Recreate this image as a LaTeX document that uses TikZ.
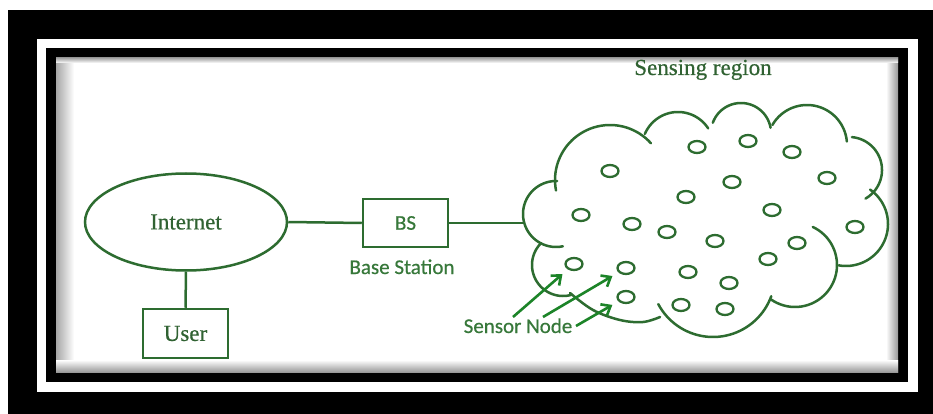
\documentclass[tikz,border=0pt]{standalone}
\usepackage{fontspec}
\setmainfont[FakeBold=0.5]{Liberation Serif}
\newfontfamily\sansf[FakeBold=0.5]{Carlito}
\usetikzlibrary{shapes.geometric,arrows.meta,calc}
\definecolor{lineg}{RGB}{45,108,48}
\definecolor{textg}{RGB}{48,98,50}
\definecolor{sansg}{RGB}{55,120,58}
\definecolor{arrowg}{RGB}{28,132,40}
\newcommand{\cloudbump}[5]{\draw[cloudarc] plot[domain=#4:#5, samples=40, variable=\t] ({#1+#3*cos(\t)}, {#2+#3*sin(\t)});}
\begin{document}
\begin{tikzpicture}[x=1pt,y=-1pt,
  line/.style={draw=lineg, line width=2.5pt},
  box/.style={draw=lineg, line width=2.5pt, minimum width=85pt, minimum height=48pt, inner sep=0pt},
  serif/.style={text=textg, font=\fontsize{23}{27}\selectfont},
  sanslabel/.style={text=sansg, font=\sansf\fontsize{21}{25}\selectfont},
  sensor/.style={ellipse, draw=lineg, line width=2.3pt, minimum width=17pt, minimum height=12pt, inner sep=0pt},
  cloudarc/.style={draw=lineg, line width=2.5pt, line cap=round},
  pointer/.style={draw=arrowg, line width=2.6pt, shorten >=7pt, -{Straight Barb[length=8pt,width=13pt]}}]
\useasboundingbox (0,0) rectangle (933,414);
% frame
\fill[white] (0,0) rectangle (933,414);
\fill[black] (8,10) rectangle (933,414);
\fill[white] (37,39) rectangle (918,392);
\fill[black] (46,48) rectangle (908,382);
\fill[white] (56,58) rectangle (898,372);
\shade[left color=black!35, right color=white] (56,58) rectangle (74,372);
\shade[left color=white, right color=black!40] (886,58) rectangle (898,372);
\shade[top color=black!35, bottom color=white] (56,58) rectangle (898,63);
\shade[top color=white, bottom color=black!40] (56,360) rectangle (898,372);
% left part
\node[ellipse, draw=lineg, line width=2.5pt, minimum width=202pt, minimum height=97pt, inner sep=0pt, serif] (inet) at (186,222) {\raisebox{-2pt}{Internet}};
\node[box, sanslabel] (bs) at (405.5,223) {\raisebox{-2pt}{BS}};
\node[sanslabel, anchor=base] (bslabel) at (402,274) {Base Station};
\node[box, serif, minimum height=49pt] (user) at (185.5,333.5) {\raisebox{-4pt}{User}};
\coordinate (cloudL) at (524,223);
\draw[line] (inet.east) -- (bs.west);
\draw[line] (bs.east) -- (cloudL);
\draw[line] (inet.south) -- (user.north);
% sensing region
\node[serif, anchor=base] (sensing) at (703,75) {Sensing region};
% cloud bumps (centre x, centre y, radius, start angle, end angle; y downwards)
\cloudbump{556}{214}{33}{78}{272}
\cloudbump{610}{180}{55}{169}{318}
\cloudbump{678}{148}{36}{203}{327}
\cloudbump{741}{133}{30}{200}{350}
\cloudbump{807}{145}{40}{210}{355}
\cloudbump{849}{170}{33}{-85}{60}
\cloudbump{846}{224}{42}{-55}{100}
\cloudbump{795}{265}{42}{-65}{125}
\cloudbump{713}{275}{62}{20}{152}
\draw[cloudarc] plot[smooth, tension=0.6] coordinates {(660,317) (643,322) (620,320) (593,310) (570,293)};
\cloudbump{563}{265}{31}{75}{225}
% sensors
\node[sensor] (s1) at (610,171) {};
\node[sensor] (s2) at (697,147) {};
\node[sensor] (s3) at (748,141) {};
\node[sensor] (s4) at (792,152) {};
\node[sensor] (s5) at (827,178) {};
\node[sensor] (s6) at (686,197) {};
\node[sensor] (s7) at (732,182) {};
\node[sensor] (s8) at (772,210) {};
\node[sensor] (s9) at (581,215) {};
\node[sensor] (s10) at (632,224) {};
\node[sensor] (s11) at (667,232) {};
\node[sensor] (s12) at (715,241) {};
\node[sensor] (s13) at (797,243) {};
\node[sensor] (s14) at (855,227) {};
\node[sensor] (s15) at (768,259) {};
\node[sensor] (s16) at (574,264) {};
\node[sensor] (s17) at (626,268) {};
\node[sensor] (s18) at (626,297) {};
\node[sensor] (s19) at (688,272) {};
\node[sensor] (s20) at (729,283) {};
\node[sensor] (s21) at (681,305) {};
\node[sensor] (s22) at (725,309) {};
% sensor node label and arrows
\node[sanslabel, anchor=base] (sn) at (518,333) {Sensor Node};
\coordinate (t1) at (513,317);
\coordinate (t2) at (543,317);
\coordinate (t3) at (576,326);
\draw[pointer] (t1) -- (s16);
\draw[pointer] (t2) -- (s17);
\draw[pointer] (t3) -- (s18);
\end{tikzpicture}
\end{document}
